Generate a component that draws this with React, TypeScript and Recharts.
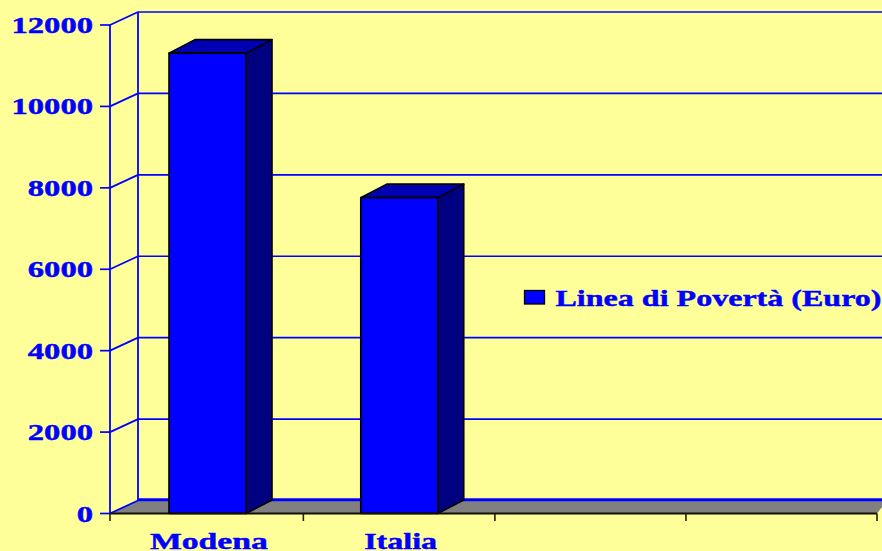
import React from "react";
import { BarChart, Bar, XAxis, YAxis, CartesianGrid, Legend } from "recharts";

const categories = ["Modena", "Italia", "", ""];
const povertyLine = [11310, 7760, null, null];
const yTicks = [0, 2000, 4000, 6000, 8000, 10000, 12000];
const seriesName = "Linea di Povertà (Euro)";

const rows = categories.map((name, i) => ({ name, value: povertyLine[i] }));

const BG = "#FFFF99";
const BLUE = "#0000FF";
const FONT = "'Liberation Serif', 'Times New Roman', serif";
const WALL_DX = 28;
const WALL_DY = -13;
const BAR_DX = 26;
const BAR_DY = -13.5;
const BAR_NUDGE = 2;
const WIDTH = 882;
const LABEL_WIDTHS: Record<string, number> = { Modena: 118, Italia: 73 };
const TICK_NUDGES = [0, 1.6, 1.4, 0.7];

const stretchedTextProps = (w: number) => ({
  textLength: w,
  lengthAdjust: "spacingAndGlyphs" as const,
  stroke: BLUE,
  strokeWidth: 0.45,
});

function GridLine(props: any) {
  const { x1, y1, x2, y2 } = props;
  const bottom = y1 > 510;
  const top = y1 < 30;
  return (
    <g>
      {bottom && (
        <path
          d={`M${x1},${y1} L${x1 + WALL_DX},${y1 + WALL_DY} L${WIDTH + 5},${y1 + WALL_DY} L${x2},${y1} Z`}
          fill="#808080"
          stroke="none"
        />
      )}
      <line x1={x1} y1={y1} x2={x1 + WALL_DX} y2={y1 + WALL_DY} stroke={BLUE} strokeWidth={1.8} />
      <line
        x1={x1 + WALL_DX}
        y1={y1 + WALL_DY - (bottom ? 0.8 : 0)}
        x2={WIDTH + 5}
        y2={y2 + WALL_DY - (bottom ? 0.8 : 0)}
        stroke={BLUE}
        strokeWidth={bottom ? 3 : 1.7}
      />
      {top && (
        <line x1={x1 + WALL_DX} y1={y1 + WALL_DY} x2={x1 + WALL_DX} y2={513.5 + WALL_DY} stroke={BLUE} strokeWidth={1.8} />
      )}
    </g>
  );
}

function Box3D(props: any) {
  const { x, y, width, height } = props;
  if (!height || height <= 0) return null;
  const l = x + BAR_NUDGE;
  const r = l + width;
  const b = y + height;
  const edge = { stroke: "#000000", strokeWidth: 1.6, strokeLinejoin: "round" as const };
  return (
    <g>
      <path d={`M${r},${y} L${r + BAR_DX},${y + BAR_DY} L${r + BAR_DX},${b + BAR_DY} L${r},${b} Z`} fill="#000080" {...edge} />
      <path d={`M${l},${y} L${l + BAR_DX},${y + BAR_DY} L${r + BAR_DX},${y + BAR_DY} L${r},${y} Z`} fill="#0000B3" {...edge} />
      <rect x={l} y={y} width={width} height={height} fill={BLUE} {...edge} />
    </g>
  );
}

function CategoryTick(props: any) {
  const { x, payload, index } = props;
  const half = payload.offset ?? 95.875;
  const label = payload.value as string;
  const axisY = 513.5;
  const left = x - half + (TICK_NUDGES[index] ?? 0);
  return (
    <g>
      <line x1={left} y1={axisY} x2={left} y2={axisY + 7.5} stroke="#222200" strokeWidth={1.6} />
      {index === categories.length - 1 && (
        <line x1={x + half} y1={axisY} x2={x + half} y2={axisY + 7.5} stroke="#222200" strokeWidth={1.6} />
      )}
      {label && (
        <text
          x={x + 3}
          y={549}
          textAnchor="middle"
          fill={BLUE}
          fontFamily={FONT}
          fontWeight="bold"
          fontSize={24}
          {...stretchedTextProps(LABEL_WIDTHS[label] ?? 80)}
        >
          {label}
        </text>
      )}
    </g>
  );
}

function ValueTick(props: any) {
  const { y, payload } = props;
  const s = String(payload.value);
  return (
    <text
      x={93}
      y={y + 8}
      textAnchor="end"
      fill={BLUE}
      fontFamily={FONT}
      fontWeight="bold"
      fontSize={24}
      {...stretchedTextProps(s.length * 16.3)}
    >
      {s}
    </text>
  );
}

function LegendBox(props: any) {
  const item = props.payload?.[0];
  return (
    <svg width={WIDTH} height={551} style={{ position: "absolute", left: 0, top: 0, overflow: "visible" }}>
      <rect x={524.5} y={290.5} width={20} height={13.5} fill={BLUE} stroke="#000000" strokeWidth={1.3} />
      <text
        x={555.5}
        y={306}
        fill={BLUE}
        fontFamily={FONT}
        fontWeight="bold"
        fontSize={24}
        {...stretchedTextProps(326)}
      >
        {item?.value ?? seriesName}
      </text>
    </svg>
  );
}

export default function App() {
  return (
    <div style={{ position: "absolute", left: 0, top: 0, width: WIDTH, height: 551, background: BG, overflow: "hidden" }}>
      <BarChart
        width={WIDTH}
        height={551}
        data={rows}
        margin={{ top: 25, right: 5, bottom: 0, left: 0 }}
        barCategoryGap="30%"
      >
        <CartesianGrid vertical={false} horizontal={(p: any) => <GridLine key={p.key ?? p.index} {...p} />} />
        <XAxis
          dataKey="name"
          height={37.5}
          interval={0}
          tick={<CategoryTick />}
          tickLine={false}
          axisLine={{ stroke: "#111100", strokeWidth: 1.8 }}
        />
        <YAxis
          width={110}
          domain={[0, 12000]}
          ticks={yTicks}
          interval={0}
          tickSize={10}
          tick={<ValueTick />}
          tickLine={{ stroke: BLUE, strokeWidth: 1.7 }}
          axisLine={{ stroke: BLUE, strokeWidth: 1.8 }}
        />
        <Legend
          layout="vertical"
          align="center"
          verticalAlign="middle"
          wrapperStyle={{ left: 0, top: 0, width: WIDTH, height: 0 }}
          content={<LegendBox />}
        />
        <Bar dataKey="value" name={seriesName} fill={BLUE} barSize={77} shape={<Box3D />} isAnimationActive={false} />
      </BarChart>
    </div>
  );
}
